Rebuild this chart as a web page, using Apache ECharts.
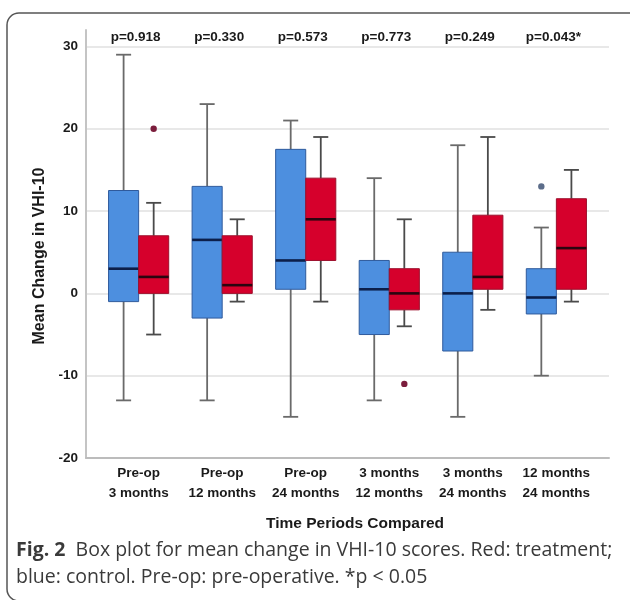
<!DOCTYPE html>
<html><head><meta charset="utf-8">
<script src="https://cdn.jsdelivr.net/npm/echarts@6/dist/echarts.min.js"></script>
<style>html,body{margin:0;padding:0;background:#fff}#c{width:630px;height:600px}</style>
</head><body><div id="c"></div>
<script>
const categories = ['Pre-op\n3 months', 'Pre-op\n12 months', 'Pre-op\n24 months', '3 months\n12 months', '3 months\n24 months', '12 months\n24 months'];
const pValues = ['p=0.918', 'p=0.330', 'p=0.573', 'p=0.773', 'p=0.249', 'p=0.043*'];
// each entry: [min, Q1, median, Q3, max]
const controlStats = [[-13, -1, 3, 12.5, 29], [-13, -3, 6.5, 13, 23], [-15, 0.5, 4, 17.5, 21], [-13, -5, 0.5, 4, 14], [-15, -7, 0, 5, 18], [-10, -2.5, -0.5, 3, 8]];
const treatmentStats = [[-5, 0, 2, 7, 11], [-1, 0, 1, 7, 9], [-1, 4, 9, 14, 19], [-4, -2, 0, 3, 9], [-2, 0.5, 2, 9.5, 19], [-1, 0.5, 5.5, 11.5, 15]];
// each entry: [category index, value]
const controlOutliers = [[5, 13]];
const treatmentOutliers = [[0, 20], [3, -11]];
const yTicks = [-20, -10, 0, 10, 20, 30];

const FONT = 'Liberation Sans';
const BOX_W = 0.36;   // in category units
const CAP_W = 0.18;

function boxRenderer(side, fill, border, medianColor, whiskerColor) {
  return function (params, api) {
    const i = api.value(0);
    const bw = api.size([BOX_W, 0])[0];
    const cw = api.size([CAP_W, 0])[0];
    const cx = api.coord([i, 0])[0] + side * bw / 2;
    const y = v => api.coord([i, v])[1];
    const mn = api.value(1), q1 = api.value(2), md = api.value(3), q3 = api.value(4), mx = api.value(5);
    const ws = { stroke: whiskerColor, lineWidth: 1.8 };
    return {
      type: 'group',
      children: [
        { type: 'line', shape: { x1: cx, y1: y(mx), x2: cx, y2: y(q3) }, style: ws },
        { type: 'line', shape: { x1: cx, y1: y(q1), x2: cx, y2: y(mn) }, style: ws },
        { type: 'line', shape: { x1: cx - cw / 2, y1: y(mx), x2: cx + cw / 2, y2: y(mx) }, style: ws },
        { type: 'line', shape: { x1: cx - cw / 2, y1: y(mn), x2: cx + cw / 2, y2: y(mn) }, style: ws },
        { type: 'rect', shape: { x: cx - bw / 2, y: y(q3), width: bw, height: y(q1) - y(q3) }, style: { fill: fill, stroke: border, lineWidth: 1 } },
        { type: 'line', shape: { x1: cx - bw / 2, y1: y(md), x2: cx + bw / 2, y2: y(md) }, style: { stroke: medianColor, lineWidth: 2.6 } }
      ]
    };
  };
}

function outlierRenderer(side, color) {
  return function (params, api) {
    const i = api.value(0);
    const bw = api.size([BOX_W, 0])[0];
    const p = api.coord([i, api.value(1)]);
    return { type: 'circle', shape: { cx: p[0] + side * bw / 2, cy: p[1], r: 3.2 }, style: { fill: color } };
  };
}

const chart = echarts.init(document.getElementById('c'));
chart.setOption({
  backgroundColor: '#fff',
  animation: false,
  grid: { left: 86, right: 21, top: 30, bottom: 142 },
  xAxis: {
    type: 'value', min: -0.63, max: 5.63,
    axisLine: { show: true, onZero: false, lineStyle: { color: '#bcbcbc', width: 2 } },
    axisTick: { show: false },
    splitLine: { show: false },
    axisLabel: {
      customValues: categories.map((c, i) => i),
      formatter: v => categories[Math.round(v)],
      fontFamily: FONT, fontWeight: 'bold', fontSize: 13.5, color: '#1a1a1a',
      lineHeight: 20, margin: 5
    },
    name: 'Time Periods Compared', nameLocation: 'middle', nameGap: 58,
    nameTextStyle: { fontFamily: FONT, fontWeight: 'bold', fontSize: 15.5, color: '#1a1a1a', padding: [0, 0, 0, 15] }
  },
  yAxis: {
    type: 'value', min: yTicks[0], max: 32, interval: 10,
    axisLine: { show: true, onZero: false, lineStyle: { color: '#c4c4c4', width: 2 } },
    axisTick: { show: false },
    splitLine: { show: true, showMaxLine: false, lineStyle: { color: '#e0e0e0', width: 1.6 } },
    axisLabel: { showMaxLabel: false, fontFamily: FONT, fontWeight: 'bold', fontSize: 13.5, color: '#1a1a1a', margin: 8 },
    name: 'Mean Change in VHI-10', nameLocation: 'middle', nameGap: 34,
    nameTextStyle: { fontFamily: FONT, fontWeight: 'bold', fontSize: 16, color: '#1a1a1a', padding: [0, 24, 0, 0] }
  },
  series: [
    {
      name: 'Control', type: 'custom', renderItem: boxRenderer(-1, '#4d8fdf', '#2f5a9c', '#0c1f4a', '#6a6a6a'),
      data: controlStats.map((s, i) => [i].concat(s)), encode: { x: 0, y: [1, 2, 3, 4, 5] }, z: 3
    },
    {
      name: 'Treatment', type: 'custom', renderItem: boxRenderer(1, '#d6002c', '#9c0f2c', '#2a0510', '#4a4a4a'),
      data: treatmentStats.map((s, i) => [i].concat(s)), encode: { x: 0, y: [1, 2, 3, 4, 5] }, z: 3
    },
    {
      name: 'Control outliers', type: 'custom', renderItem: outlierRenderer(-1, '#5c6d8a'),
      data: controlOutliers, encode: { x: 0, y: 1 }, z: 4
    },
    {
      name: 'Treatment outliers', type: 'custom', renderItem: outlierRenderer(1, '#7b1d3c'),
      data: treatmentOutliers, encode: { x: 0, y: 1 }, z: 4
    },
    {
      name: 'p-values', type: 'custom',
      renderItem: function (params, api) {
        const i = api.value(0);
        const p = api.coord([i, 32]);
        return {
          type: 'text', x: p[0] - 3, y: p[1] + 7,
          style: { text: pValues[i], fontFamily: FONT, fontWeight: 'bold', fontSize: 13.5, fill: '#1a1a1a', align: 'center', verticalAlign: 'middle' }
        };
      },
      data: pValues.map((p, i) => [i]), encode: { x: 0 }, z: 5
    }
  ],
  graphic: [
    { type: 'rect', shape: { x: 7, y: 13, width: 660, height: 588, r: 12 }, style: { fill: 'none', stroke: '#555', lineWidth: 1.5 }, z: 10 },
    {
      type: 'text', left: 16, top: 537, z: 10,
      style: {
        text: '{b|Fig. 2}  Box plot for mean change in VHI-10 scores. Red: treatment;\nblue: control. Pre-op: pre-operative. *p < 0.05',
        fontFamily: 'Open Sans', fontSize: 19.5, lineHeight: 27, fill: '#3a3a3a',
        rich: { b: { fontFamily: 'Open Sans', fontWeight: 'bold', fontSize: 19.5, fill: '#3a3a3a', lineHeight: 27 } }
      }
    }
  ]
});
</script></body></html>
